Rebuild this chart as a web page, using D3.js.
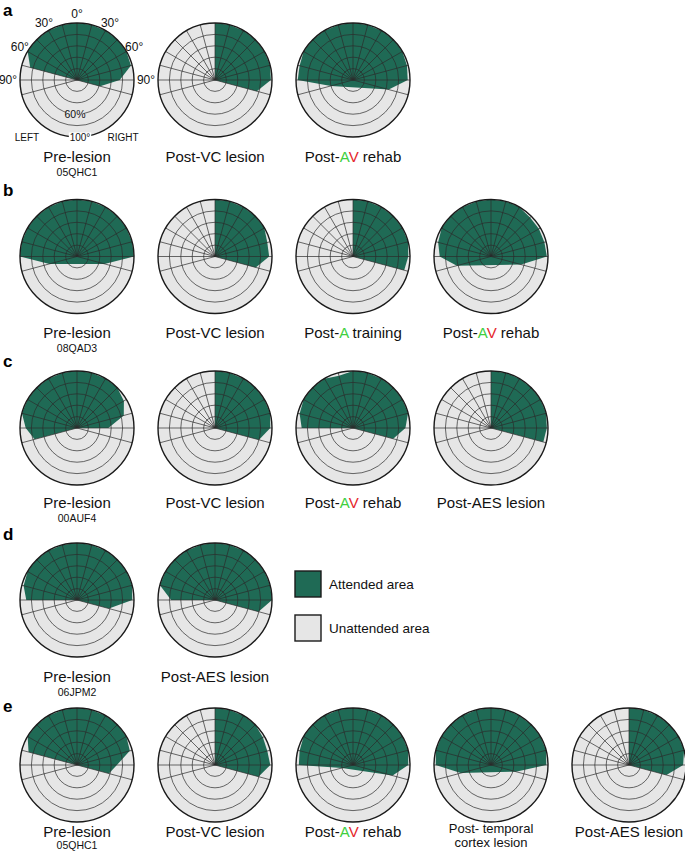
<!DOCTYPE html>
<html><head><meta charset="utf-8">
<script src="https://cdnjs.cloudflare.com/ajax/libs/d3/7.8.5/d3.min.js"></script>
<style>
html,body{margin:0;padding:0;background:#fff;}
text{font-family:"Liberation Sans",Arial,Helvetica,sans-serif;}
</style></head>
<body><svg id="chart" width="685" height="858"></svg>
<script>
// ---------- data ----------
const angles = [-105,-90,-75,-60,-45,-30,-15,0,15,30,45,60,75,90,105]; // degrees, 0 = straight ahead, negative = left
const ringLevels = [20,40,60,80,100]; // % attended
const panelLetters = ["a","b","c","d","e"];

const rowA_titles = ["Pre-lesion","Post-VC lesion","Post-AV rehab"];
const rowB_titles = ["Pre-lesion","Post-VC lesion","Post-A training","Post-AV rehab"];
const rowC_titles = ["Pre-lesion","Post-VC lesion","Post-AV rehab","Post-AES lesion"];
const rowD_titles = ["Pre-lesion","Post-AES lesion"];
const rowE_titles = ["Pre-lesion","Post-VC lesion","Post-AV rehab","Post- temporal|cortex lesion","Post-AES lesion"];
const animalIds = ["05QHC1","08QAD3","00AUF4","06JPM2","05QHC1"];

// attended-area radius (%) at each angle in `angles`
const a1 = [0,0,85,100,100,100,100,100,100,100,100,100,98,75,42];
const a2 = [0,0,0,0,0,0,0,100,100,100,100,100,100,98,76];
const a3 = [40,97,97,100,100,100,100,100,100,100,100,100,98,96,65];
const b1 = [50,100,100,100,100,100,100,100,100,100,100,100,100,100,50];
const b2 = [0,0,0,0,0,0,0,100,100,100,100,100,95,95,74];
const b3 = [0,0,0,0,0,0,0,100,100,100,100,100,100,97,93];
const b4 = [62,90,96,100,100,100,100,100,100,100,97,97,97,98,55];
const c1 = [77,90,100,100,100,100,100,100,100,100,100,95,85,55,0];
const c2 = [0,0,0,0,0,0,0,100,100,100,100,100,100,97,80];
const c3 = [0,90,97,100,100,100,95,100,100,100,100,100,100,92,73];
const c4 = [0,0,0,0,0,0,0,100,100,100,100,100,100,98,95];
const d1 = [0,89,97,100,100,100,100,100,100,100,100,100,100,97,58];
const d2 = [0,77,100,100,100,100,100,100,100,100,100,100,100,100,79];
const e1 = [0,0,88,100,100,100,100,100,100,100,100,100,96,70,58];
const e2 = [0,0,0,0,0,0,0,100,100,100,100,97,95,97,79];
const e3 = [20,95,97,100,100,100,100,100,100,100,100,100,100,97,72];
const e4 = [55,97,100,100,100,100,100,100,100,100,100,100,100,97,45];
const e5 = [0,0,0,0,0,0,0,100,100,100,100,100,100,95,68];

const rows = [
  {titles: rowA_titles, data: [a1,a2,a3]},
  {titles: rowB_titles, data: [b1,b2,b3,b4]},
  {titles: rowC_titles, data: [c1,c2,c3,c4]},
  {titles: rowD_titles, data: [d1,d2]},
  {titles: rowE_titles, data: [e1,e2,e3,e4,e5]}
];
const legendLabels = ["Attended area","Unattended area"];

// ---------- layout ----------
const colX = [77,215,353,491,629];
const rowY = [80,256.5,428,600,765];
const titleDy = [82,81.5,80,82,72];
const idDy = [14,14,14,14,12];
const letterY = [16,196,367,540,712];
const R = 57;
const GREEN = "#1f6a55", GREY = "#e6e6e6", LINE = "#2b2b2b";

const svg = d3.select("#chart");
const r = d3.scaleLinear().domain([0,100]).range([0,R]);
const rad = d => d*Math.PI/180;
const radial = d3.lineRadial().angle((d,i)=>rad(angles[i])).radius(d=>r(d)).curve(d3.curveLinearClosed);

function drawPolar(g, vals){
  g.append("circle").attr("r",R).attr("fill",GREY);
  g.append("path").attr("d",radial(vals)).attr("fill",GREEN).attr("stroke","none");
  g.selectAll(".spoke").data(angles).join("line")
    .attr("x1",0).attr("y1",0)
    .attr("x2",d=>r(100)*Math.sin(rad(d))).attr("y2",d=>-r(100)*Math.cos(rad(d)))
    .attr("stroke",LINE).attr("stroke-width",0.7);
  g.selectAll(".ring").data(ringLevels.slice(0,-1)).join("circle")
    .attr("r",d=>r(d)).attr("fill","none").attr("stroke",LINE).attr("stroke-width",0.7);
  g.append("circle").attr("r",R).attr("fill","none").attr("stroke","#1a1a1a").attr("stroke-width",1.4);
}

function addTitle(g, t, dy){
  const lines = t.split("|");
  lines.forEach((ln,k)=>{
    const tx = g.append("text").attr("x",0).attr("y",dy + k*14 - (lines.length>1?4:0))
      .attr("text-anchor","middle").attr("font-size", lines.length>1?13:15).attr("fill","#111");
    const m = ln.match(/^Post-(AV|A)( .*)$/);
    if(m){
      tx.append("tspan").text("Post-");
      tx.append("tspan").text("A").attr("fill","#3fcf3f");
      if(m[1]==="AV") tx.append("tspan").text("V").attr("fill","#e5262b");
      tx.append("tspan").text(m[2]);
    } else tx.text(ln);
  });
}

rows.forEach((row,ri)=>{
  svg.append("text").attr("x",3).attr("y",letterY[ri]).attr("font-size",17).attr("font-weight","bold")
    .text(panelLetters[ri]);
  row.data.forEach((vals,ci)=>{
    const g = svg.append("g").attr("transform",`translate(${colX[ci]},${rowY[ri]})`);
    drawPolar(g, vals);
    addTitle(g, row.titles[ci], titleDy[ri]);
    if(ci===0){
      g.append("text").attr("x",0).attr("y",titleDy[ri]+idDy[ri]).attr("text-anchor","middle")
        .attr("font-size",10.5).attr("fill","#111").text(animalIds[ri]);
    }
  });
});

// axis annotations on first panel
const g0 = svg.append("g").attr("transform",`translate(${colX[0]},${rowY[0]})`);
const angLabels = [{a:0,t:"0°"},{a:-30,t:"30°"},{a:30,t:"30°"},{a:-60,t:"60°"},{a:60,t:"60°"},{a:-90,t:"90°"},{a:90,t:"90°"}];
angLabels.forEach(o=>{
  const rr = Math.abs(o.a)===90 ? R+12 : R+9;
  g0.append("text").attr("x",rr*Math.sin(rad(o.a))).attr("y",-rr*Math.cos(rad(o.a)))
    .attr("text-anchor","middle").attr("dominant-baseline","central").attr("font-size",12).attr("fill","#111").text(o.t);
});
function labelWithBg(x,y,t,bg,fs){
  g0.append("rect").attr("x",x-t.length*fs*0.28).attr("y",y-fs*0.45).attr("width",t.length*fs*0.56).attr("height",fs*0.9).attr("fill",bg);
  g0.append("text").attr("x",x).attr("y",y).attr("text-anchor","middle").attr("dominant-baseline","central").attr("font-size",fs).attr("fill","#111").text(t);
}
labelWithBg(-2, r(60), "60%", GREY, 10.5);
labelWithBg(3, R, "100°", "#fff", 10);
g0.append("text").attr("x",-50).attr("y",R).attr("text-anchor","middle").attr("dominant-baseline","central").attr("font-size",10).attr("fill","#111").text("LEFT");
g0.append("text").attr("x",46).attr("y",R).attr("text-anchor","middle").attr("dominant-baseline","central").attr("font-size",10).attr("fill","#111").text("RIGHT");

// legend
const leg = svg.append("g").attr("transform","translate(295,571)");
[GREEN,GREY].forEach((c,i)=>{
  leg.append("rect").attr("x",0).attr("y",i*44).attr("width",26).attr("height",26)
    .attr("fill",c).attr("stroke","#1a1a1a").attr("stroke-width",1.4);
  leg.append("text").attr("x",34).attr("y",i*44+13).attr("dominant-baseline","central")
    .attr("font-size",13.5).attr("fill","#111").text(legendLabels[i]);
});
</script></body></html>
